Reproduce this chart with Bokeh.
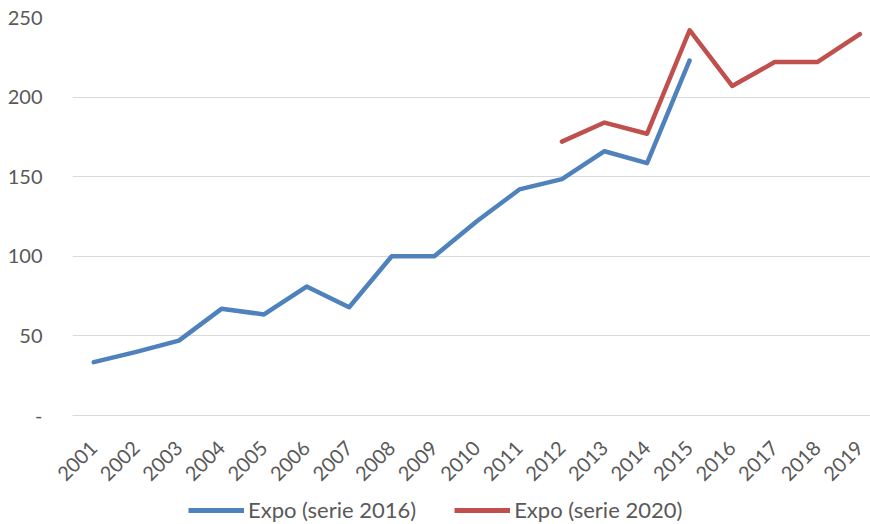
import math
from bokeh.plotting import figure
from bokeh.layouts import column
from bokeh.models import Range1d, FixedTicker, Legend, LegendItem, ColumnDataSource
from bokeh.embed import file_html
from bokeh.resources import INLINE

years = list(range(2001, 2020))
serie_2016 = [33.5, 40, 47, 67, 63.5, 81, 68, 100, 100, 122, 142, 148.5, 166, 158.5, 223,
              None, None, None, None]
serie_2020 = [None] * 11 + [172, 184, 177, 242, 207, 222, 222, 239.5]
y_ticks = [0, 50, 100, 150, 200, 250]

nan = float("nan")
s1 = ColumnDataSource(dict(x=years, y=[nan if v is None else v for v in serie_2016]))
s2 = ColumnDataSource(dict(x=years, y=[nan if v is None else v for v in serie_2020]))

FONT = "Lato"
GREY = "#595959"
BLUE = "#4F81BD"
RED = "#C0504D"

p = figure(width=870, height=490, output_backend="svg", toolbar_location=None,
           x_range=Range1d(2000.5, 2019.25), y_range=Range1d(0, 250),
           min_border_left=72, min_border_right=0, min_border_top=17, min_border_bottom=72)
p.outline_line_color = None

p.line("x", "y", source=s1, line_color=BLUE, line_width=4.5,
       line_join="round", line_cap="round")
p.line("x", "y", source=s2, line_color=RED, line_width=4.5,
       line_join="round", line_cap="round")

p.xaxis.ticker = FixedTicker(ticks=years)
p.xaxis.major_label_orientation = math.pi / 4
p.xaxis.axis_line_color = "#D9D9D9"
p.xaxis.axis_line_width = 1.2
p.xaxis.major_tick_line_color = None
p.xaxis.minor_tick_line_color = None
p.xaxis.major_label_text_font = FONT
p.xaxis.major_label_text_font_size = "20px"
p.xaxis.major_label_text_color = GREY
p.xaxis.major_label_standoff = 23

p.yaxis.ticker = FixedTicker(ticks=y_ticks)
p.yaxis.major_label_overrides = {0: "-"}
p.yaxis.axis_line_color = None
p.yaxis.major_tick_line_color = None
p.yaxis.minor_tick_line_color = None
p.yaxis.major_label_text_font = FONT
p.yaxis.major_label_text_font_size = "20px"
p.yaxis.major_label_text_color = GREY
p.yaxis.major_label_standoff = 24

p.xgrid.grid_line_color = None
p.ygrid.grid_line_color = "#D9D9D9"
p.ygrid.grid_line_width = 1.2
p.ygrid.ticker = FixedTicker(ticks=y_ticks)

# legend strip below the chart
pl = figure(width=870, height=34, output_backend="svg", toolbar_location=None,
            x_range=Range1d(-10, -9), y_range=Range1d(-10, -9),
            x_axis_type=None, y_axis_type=None,
            min_border_left=0, min_border_right=0, min_border_top=0, min_border_bottom=0)
pl.outline_line_color = None
pl.xgrid.grid_line_color = None
pl.ygrid.grid_line_color = None
l1 = pl.line("x", "y", source=s1, line_color=BLUE, line_width=5)
l2 = pl.line("x", "y", source=s2, line_color=RED, line_width=5)

legend = Legend(items=[LegendItem(label="Expo (serie 2016)", renderers=[l1]),
                       LegendItem(label="Expo (serie 2020)", renderers=[l2])],
                orientation="horizontal", location=(116, 1),
                label_text_font=FONT, label_text_font_size="22px",
                label_text_color=GREY, glyph_width=56, glyph_height=22,
                label_standoff=4, spacing=38, padding=0, margin=0,
                border_line_color=None, background_fill_alpha=0)
pl.add_layout(legend, "center")

layout = column(p, pl, spacing=0)
open("out.html", "w").write(file_html(layout, INLINE))
